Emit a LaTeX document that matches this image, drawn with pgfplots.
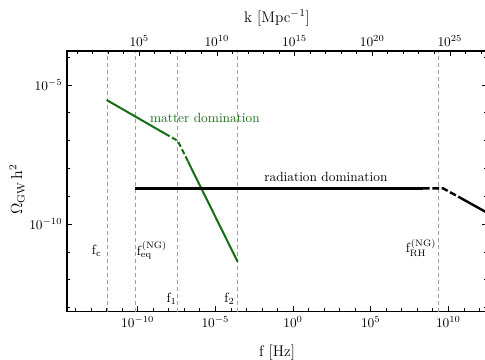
\documentclass[border=0pt]{standalone}
\usepackage{pgfplots}
\pgfplotsset{compat=1.18}
\usetikzlibrary{calc}
\definecolor{mgreen}{RGB}{20,110,20}
\definecolor{vgray}{RGB}{160,160,160}
\begin{document}
\begin{tikzpicture}
\begin{axis}[name=a, scale only axis, width=315pt, height=195.5pt,
  at={(0,0)}, anchor=south west,
  xmin=-14.55, xmax=12.49, ymin=-13.15, ymax=-3.78,
  xtick={-10,-5,0,5,10},
  xticklabels={$10^{-10}$,$10^{-5}$,$10^{0}$,$10^{5}$,$10^{10}$},
  minor xtick={-14,...,12},
  ytick={-10,-5}, yticklabels={$10^{-10}$,$10^{-5}$},
  minor ytick={-13,...,-4},
  xtick pos=left, ytick pos=both, tick align=inside,
  major tick length=4pt, minor tick length=2.5pt,
  every tick/.style={black, line width=0.5pt},
  axis line style={line width=0.8pt},
  xlabel={f [Hz]}, ylabel={$\Omega_{\mathrm{GW}}\,\mathrm{h}^2$},
  every axis x label/.style={at={(axis description cs:0.5,-0.159)},anchor=center,font=\fontsize{11.5}{13}\selectfont},
  every axis y label/.style={at={(axis description cs:-0.119,0.47)},rotate=90,anchor=center,font=\fontsize{11.5}{13}\selectfont},
  clip=true]
% vertical dashed markers
\addplot[vgray, line width=0.6pt, dash pattern=on 3pt off 2.25pt] coordinates {(-11.96,-13.15) (-11.96,-3.78)};
\addplot[vgray, line width=0.6pt, dash pattern=on 3pt off 2.25pt] coordinates {(-10.17,-13.15) (-10.17,-3.78)};
\addplot[vgray, line width=0.6pt, dash pattern=on 3pt off 2.25pt] coordinates {(-7.42,-13.15) (-7.42,-3.78)};
\addplot[vgray, line width=0.6pt, dash pattern=on 3pt off 2.25pt] coordinates {(-3.56,-13.15) (-3.56,-3.78)};
\addplot[vgray, line width=0.6pt, dash pattern=on 3pt off 2.25pt] coordinates {(9.36,-13.15) (9.36,-3.78)};
% matter domination (green)
\addplot[mgreen, line width=1.5pt] coordinates {(-12.0,-5.54) (-8.24,-6.75)};
\addplot[mgreen, line width=1.5pt, dash pattern=on 4pt off 2pt] coordinates {(-8.24,-6.75) (-7.42,-7.01) (-6.76,-7.75)};
\addplot[mgreen, line width=1.5pt] coordinates {(-6.76,-7.75) (-3.56,-11.36)};
% radiation domination (black)
\addplot[black, line width=1.8pt] coordinates {(-10.17,-8.716) (8.37,-8.716)};
\addplot[black, line width=1.8pt, dash pattern=on 5pt off 2pt] coordinates {(8.37,-8.716) (9.66,-8.716) (10.75,-9.05)};
\addplot[black, line width=1.8pt] coordinates {(10.75,-9.05) (12.49,-9.59)};
% labels
\node[mgreen, font=\fontsize{10}{12}\selectfont] at (axis cs:-5.67,-6.19) {matter domination};
\node[black, font=\fontsize{10}{12}\selectfont] at (axis cs:2.12,-8.31) {radiation domination};
\node[font=\fontsize{10}{12}\selectfont] at (axis cs:-12.64,-10.97) {$\mathrm{f}_{\mathrm{c}}$};
\node[font=\fontsize{10}{12}\selectfont] at (axis cs:-9.08,-10.94) {$\mathrm{f}_{\mathrm{eq}}^{(\mathrm{NG})}$};
\node[font=\fontsize{10}{12}\selectfont] at (axis cs:-7.81,-12.70) {$\mathrm{f}_{1}$};
\node[font=\fontsize{10}{12}\selectfont] at (axis cs:-4.09,-12.70) {$\mathrm{f}_{2}$};
\node[font=\fontsize{10}{12}\selectfont] at (axis cs:8.24,-10.86) {$\mathrm{f}_{\mathrm{RH}}^{(\mathrm{NG})}$};
\end{axis}
\begin{axis}[scale only axis, width=315pt, height=195.5pt,
  at={(0,0)}, anchor=south west,
  xmin=0.35, xmax=27.39, ymin=-13.15, ymax=-3.78,
  axis x line*=top, hide y axis,
  xtick={5,10,15,20,25},
  xticklabels={$10^{5}$,$10^{10}$,$10^{15}$,$10^{20}$,$10^{25}$},
  minor xtick={1,...,27},
  tick align=inside,
  major tick length=4pt, minor tick length=2.5pt,
  every tick/.style={black, line width=0.5pt},
  axis line style={line width=0.8pt},
  xlabel={k [Mpc$^{-1}$]},
  every axis x label/.style={at={(axis description cs:0.5,1.127)},anchor=center,font=\fontsize{11.5}{13}\selectfont}]
\addplot[draw=none] coordinates {(1,-10) (2,-10)};
\end{axis}
\pgfresetboundingbox
\useasboundingbox ($(a.south west)+(-50.25pt,-36.2pt)$) rectangle ($(a.north east)+(-1.5pt,38.25pt)$);
\end{tikzpicture}
\end{document}
